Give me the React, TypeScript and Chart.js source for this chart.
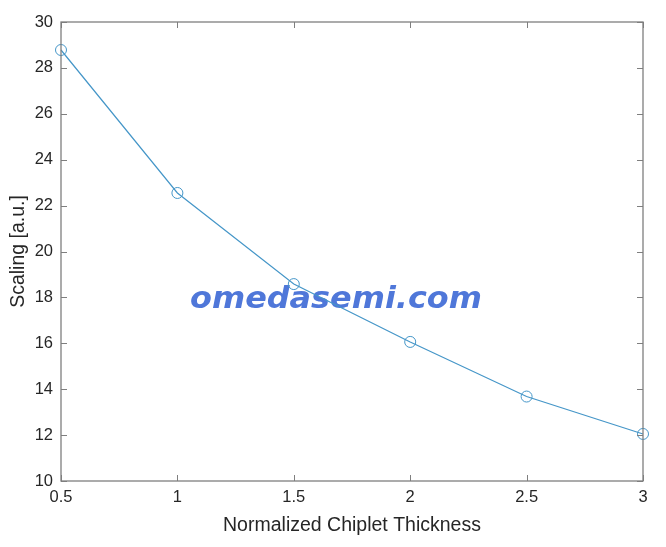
import React, { useEffect, useRef } from "react";
import { Chart, registerables } from "chart.js";

Chart.register(...registerables);

const thickness = [0.5, 1, 1.5, 2, 2.5, 3];
const scaling = [28.78, 22.55, 18.58, 16.06, 13.68, 12.05];
const xTicks = [0.5, 1, 1.5, 2, 2.5, 3];
const yTicks = [10, 12, 14, 16, 18, 20, 22, 24, 26, 28, 30];
const xTitle = "Normalized Chiplet Thickness";
const yTitle = "Scaling [a.u.]";
const watermark = "omedasemi.com";

const FONT = "'Liberation Sans', Arial, Helvetica, sans-serif";
const WM_FONT = "'DejaVu Sans', Verdana, sans-serif";
const AXIS_COLOR = "#7f7f7f";
const TEXT_COLOR = "#262626";
const LINE_COLOR = "#4596c8";

const boxTicksPlugin = {
  id: "boxTicks",
  beforeDatasetsDraw(chart: any) {
    const { ctx } = chart;
    ctx.save();
    const size = 31;
    ctx.font = `italic 900 ${size}px ${WM_FONT}`;
    const w = ctx.measureText(watermark).width;
    const sx = 292 / w;
    ctx.fillStyle = "#4f77d9";
    ctx.textAlign = "center";
    ctx.textBaseline = "middle";
    ctx.translate(336, 300);
    ctx.scale(sx, 1);
    ctx.fillText(watermark, 0, 0);
    ctx.restore();
  },
  afterDatasetsDraw(chart: any) {
    const { ctx, chartArea, scales } = chart;
    const { left, right, top, bottom } = chartArea;
    const tl = 6;
    ctx.save();
    ctx.strokeStyle = AXIS_COLOR;
    ctx.lineWidth = 1;
    ctx.beginPath();
    for (const v of xTicks) {
      const px = Math.round(scales.x.getPixelForValue(v)) + 0.5;
      ctx.moveTo(px, bottom);
      ctx.lineTo(px, bottom - tl);
      ctx.moveTo(px, top);
      ctx.lineTo(px, top + tl);
    }
    for (const v of yTicks) {
      const py = Math.round(scales.y.getPixelForValue(v)) + 0.5;
      ctx.moveTo(left, py);
      ctx.lineTo(left + tl, py);
      ctx.moveTo(right, py);
      ctx.lineTo(right - tl, py);
    }
    ctx.stroke();
    ctx.lineWidth = 1.3;
    ctx.strokeRect(left, top, right - left, bottom - top);
    ctx.restore();
  },
};

export default function App() {
  const ref = useRef<HTMLCanvasElement>(null);
  useEffect(() => {
    if (!ref.current) return;
    const chart = new Chart(ref.current, {
      type: "line",
      data: {
        datasets: [
          {
            data: thickness.map((x, i) => ({ x, y: scaling[i] })),
            borderColor: LINE_COLOR,
            borderWidth: 1.2,
            pointRadius: 5.5,
            pointBorderWidth: 1,
            pointBorderColor: LINE_COLOR,
            pointBackgroundColor: "rgba(0,0,0,0)",
            pointStyle: "circle",
            tension: 0,
            fill: false,
            clip: false as any,
          },
        ],
      },
      options: {
        responsive: false,
        animation: false,
        layout: { padding: { top: 22, right: 23, left: 0, bottom: 0 } },
        plugins: { legend: { display: false }, tooltip: { enabled: false } },
        scales: {
          x: {
            type: "linear",
            min: 0.5,
            max: 3,
            afterBuildTicks: (s: any) => {
              s.ticks = xTicks.map((v) => ({ value: v }));
            },
            afterFit: (s: any) => {
              s.height = 66;
            },
            grid: { display: false, drawTicks: false },
            border: { display: false },
            ticks: {
              color: TEXT_COLOR,
              font: { family: FONT, size: 16.5 },
              padding: 7,
              maxRotation: 0,
              autoSkip: false,
              callback: (v: any) => String(v),
            },
            title: {
              display: true,
              text: xTitle,
              color: TEXT_COLOR,
              font: { family: FONT, size: 19.5 },
              padding: { top: 6, bottom: 10 },
            },
          },
          y: {
            type: "linear",
            min: 10,
            max: 30,
            afterBuildTicks: (s: any) => {
              s.ticks = yTicks.map((v) => ({ value: v }));
            },
            afterFit: (s: any) => {
              s.width = 61;
            },
            grid: { display: false, drawTicks: false },
            border: { display: false },
            ticks: {
              color: TEXT_COLOR,
              font: { family: FONT, size: 16.5 },
              padding: 8,
              autoSkip: false,
              callback: (v: any) => String(v),
            },
            title: {
              display: true,
              text: yTitle,
              color: TEXT_COLOR,
              font: { family: FONT, size: 19.5 },
              padding: { top: 7, bottom: 4 },
            },
          },
        },
      },
      plugins: [boxTicksPlugin],
    });
    return () => chart.destroy();
  }, []);
  return (
    <div style={{ position: "fixed", left: 0, top: 0, width: 666, height: 547, background: "#fff" }}>
      <canvas ref={ref} width={666} height={547} />
    </div>
  );
}
